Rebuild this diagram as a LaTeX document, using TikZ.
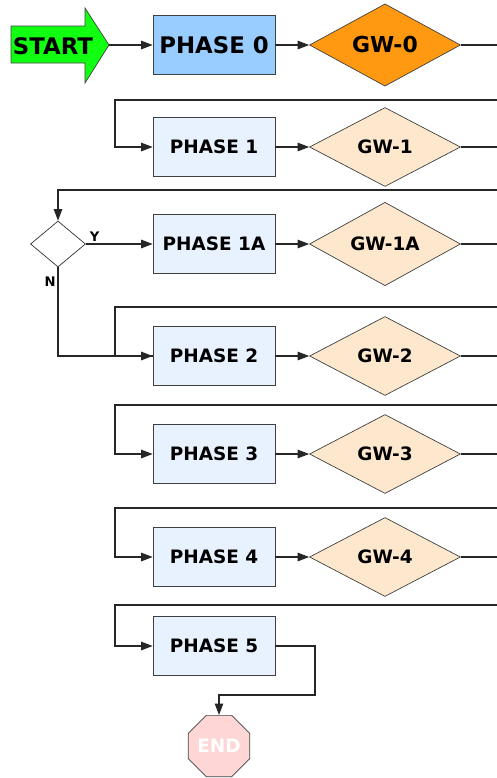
\documentclass[tikz,border=0pt]{standalone}
\usepackage{fontspec}
\setmainfont{DejaVu Sans}
\usetikzlibrary{shapes.geometric,arrows.meta}
\definecolor{startgreen}{HTML}{11FF11}
\definecolor{phasedark}{HTML}{99CCFF}
\definecolor{phaselight}{HTML}{E8F2FE}
\definecolor{gatedark}{HTML}{FF9911}
\definecolor{gatelight}{HTML}{FDE8CE}
\definecolor{endpink}{HTML}{FFD6D6}
\tikzset{
  phasebox/.style={draw=black!75,fill=phaselight,minimum width=2.44cm,minimum height=1.18cm,inner sep=0pt,font=\bfseries\fontsize{10.5}{12}\selectfont},
  gatebox/.style={diamond,draw=black!75,fill=gatelight,minimum width=3.02cm,minimum height=1.58cm,inner sep=0pt,font=\bfseries\fontsize{10.5}{12}\selectfont},
  flow/.style={draw=black!85,line width=0.6pt,-{Triangle[length=6.5pt,width=4.8pt]}},
  link/.style={draw=black!85,line width=0.6pt},
  yn/.style={font=\bfseries\fontsize{7.5}{8}\selectfont,inner sep=1pt}
}
\begin{document}
\begin{tikzpicture}[x=0.02cm,y=-0.02cm]
                \useasboundingbox (0,0) rectangle (497,778);
                \clip (0,0) rectangle (497,778);
                % start arrow
                \draw[black!75,fill=startgreen] (11,26) -- (85,26) -- (85,8) -- (109,45) -- (85,83) -- (85,63) -- (11,63) -- cycle;
                \node[font=\bfseries\fontsize{13}{15}\selectfont,inner sep=0pt] (start) at (53,46) {START};
                \coordinate (starttip) at (109,45);
                % phases and gateways
                \node[phasebox,fill=phasedark,font=\bfseries\fontsize{13}{15}\selectfont] (phase0) at (214,45) {PHASE 0};
                \node[gatebox,fill=gatedark,font=\bfseries\fontsize{12.5}{15}\selectfont] (gw0) at (385,45) {GW-0};
                \node[phasebox] (phase1) at (214,147) {PHASE 1};
                \node[gatebox] (gw1) at (385,147) {GW-1};
                \node[diamond,draw=black!80,fill=white,minimum width=1.1cm,minimum height=0.92cm,inner sep=0pt] (check) at (58,244) {};
                \node[phasebox] (phase1a) at (214,244) {PHASE 1A};
                \node[gatebox] (gw1a) at (385,244) {GW-1A};
                \node[phasebox] (phase2) at (214,356) {PHASE 2};
                \node[gatebox] (gw2) at (385,356) {GW-2};
                \node[phasebox] (phase3) at (214,454) {PHASE 3};
                \node[gatebox] (gw3) at (385,454) {GW-3};
                \node[phasebox] (phase4) at (214,557) {PHASE 4};
                \node[gatebox] (gw4) at (385,557) {GW-4};
                \node[phasebox] (phase5) at (214,646) {PHASE 5};
                \node[regular polygon,regular polygon sides=8,draw=black!75,fill=endpink,minimum size=1.32cm,inner sep=0pt,text=white,font=\bfseries\fontsize{10.5}{12}\selectfont] (stop) at (219,746) {END};
                % right edge and return points
                \foreach \g/\y in {gw0/45,gw1/147,gw1a/244,gw2/356,gw3/454,gw4/557}
                    \draw[link] (\g.east) -- (497,\y);
                \coordinate (ret0) at (497,100);
                \coordinate (ret1) at (497,190);
                \coordinate (ret2) at (497,307);
                \coordinate (ret3) at (497,405);
                \coordinate (ret4) at (497,508);
                \coordinate (ret5) at (497,605);
                % connectors
                \draw[flow] (starttip) -- (phase0);
                \foreach \p/\g in {phase0/gw0,phase1/gw1,phase1a/gw1a,phase2/gw2,phase3/gw3,phase4/gw4}
                    \draw[flow] (\p) -- (\g);
                \draw[flow] (ret0) -- (115,100) |- (phase1.west);
                \draw[flow] (ret1) -| (check.north);
                \draw[flow] (check.east) -- (phase1a.west) node[yn,pos=0,anchor=south west,xshift=1pt] {Y};
                \draw[flow] (check.south) node[yn,anchor=north east,yshift=-4pt] {N} |- (phase2.west);
                \draw[link] (ret2) -- (115,307) |- (phase2.west);
                \draw[flow] (ret3) -- (115,405) |- (phase3.west);
                \draw[flow] (ret4) -- (115,508) |- (phase4.west);
                \draw[flow] (ret5) -- (115,605) |- (phase5.west);
                \draw[flow] (phase5.east) -- (315,646) -- (315,695) -| (stop.north);
            \end{tikzpicture}
\end{document}
